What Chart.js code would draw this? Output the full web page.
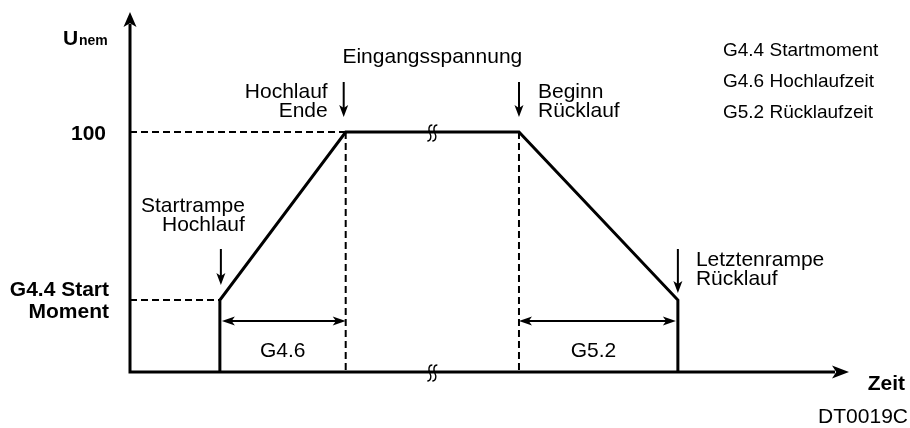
<!DOCTYPE html>
<html lang="de">
<head>
<meta charset="utf-8">
<title>DT0019C</title>
<script src="https://cdn.jsdelivr.net/npm/chart.js@4/dist/chart.umd.min.js"></script>
<style>
  body { margin: 0; background: #fff; }
  #box { width: 910px; height: 428px; }
</style>
</head>
<body>
<div id="box"><canvas id="diagramm"></canvas></div>
<script>
// Zeitpunkte auf der Zeitachse (0..100)
const zeitStart = 12.5;
const zeitHochlaufEnde = 30;
const zeitBeginnRuecklauf = 54.1;
const zeitEnde = 76.2;

// Spannungsverlauf U nem in %
const kurveZeit = [zeitStart, zeitStart, zeitHochlaufEnde, zeitBeginnRuecklauf, zeitEnde, zeitEnde];
const kurveSpannung = [0, 30, 100, 100, 30, 0];

const startMoment = 30;
const yWerte = [100, startMoment];
const yBeschriftung = [["100"], ["G4.4 Start", "Moment"]];

const parameter = ["G4.4 Startmoment", "G4.6 Hochlaufzeit", "G5.2 Rücklaufzeit"];

const schrift = '"Liberation Sans", Arial, sans-serif';

function punkte(xs, ys) {
  return xs.map((v, i) => ({ x: v, y: ys[i] }));
}

function gestrichelt(xs, ys) {
  return {
    data: punkte(xs, ys),
    showLine: true,
    borderColor: "#000",
    borderWidth: 2,
    borderDash: [7, 4],
    pointRadius: 0,
    clip: false
  };
}

// Pfeilspitze mit Spitze bei (x, y), zeigt in Richtung w
function spitze(ctx, x, y, w, l, b) {
  const dx = Math.cos(w), dy = Math.sin(w);
  const bx = x - dx * l, by = y - dy * l;
  ctx.beginPath();
  ctx.moveTo(x, y);
  ctx.lineTo(bx - dy * b, by + dx * b);
  ctx.lineTo(bx + dx * l * 0.25, by + dy * l * 0.25);
  ctx.lineTo(bx + dy * b, by - dx * b);
  ctx.closePath();
  ctx.fill();
}

function pfeilRunter(ctx, x, y1, y2) {
  ctx.lineWidth = 2;
  ctx.beginPath();
  ctx.moveTo(x, y1);
  ctx.lineTo(x, y2 - 8);
  ctx.stroke();
  spitze(ctx, x, y2, Math.PI / 2, 12, 4.5);
}

function doppelpfeil(ctx, x1, x2, y) {
  ctx.lineWidth = 2;
  ctx.beginPath();
  ctx.moveTo(x1 + 8, y);
  ctx.lineTo(x2 - 8, y);
  ctx.stroke();
  spitze(ctx, x1, y, Math.PI, 13, 4.5);
  spitze(ctx, x2, y, 0, 13, 4.5);
}

// Unterbrechungszeichen (zwei geschwungene Striche)
function bruch(ctx, x, y) {
  ctx.lineWidth = 1.4;
  [-2.5, 2.5].forEach(o => {
    const cx = x + o;
    ctx.beginPath();
    ctx.moveTo(cx + 2.5, y - 8);
    ctx.bezierCurveTo(cx - 1.5, y - 8, cx - 1.5, y - 3, cx, y);
    ctx.bezierCurveTo(cx + 1.5, y + 3, cx + 1.5, y + 8, cx - 2.5, y + 8);
    ctx.stroke();
  });
}

function text(ctx, t, x, y, align, font) {
  ctx.font = font;
  ctx.textAlign = align;
  ctx.fillText(t, x, y);
}

const zeichnung = {
  id: "zeichnung",
  afterDatasetsDraw(chart) {
    const { ctx, chartArea, scales } = chart;
    const px = v => scales.x.getPixelForValue(v);
    const py = v => scales.y.getPixelForValue(v);
    const f = "21px " + schrift;
    const fb = "bold 21px " + schrift;

    ctx.save();
    ctx.strokeStyle = "#000";
    ctx.fillStyle = "#000";
    ctx.textBaseline = "alphabetic";

    // Achsen
    ctx.lineWidth = 3;
    ctx.lineJoin = "miter";
    ctx.beginPath();
    ctx.moveTo(chartArea.left, chartArea.top + 12);
    ctx.lineTo(chartArea.left, chartArea.bottom);
    ctx.lineTo(chartArea.right - 14, chartArea.bottom);
    ctx.stroke();
    spitze(ctx, chartArea.left, chartArea.top, -Math.PI / 2, 15, 6.5);
    spitze(ctx, chartArea.right, chartArea.bottom, 0, 17, 6.5);

    // Unterbrechungen
    const mitte = (px(zeitHochlaufEnde) + px(zeitBeginnRuecklauf)) / 2;
    bruch(ctx, mitte, py(100) + 1);
    bruch(ctx, mitte, py(0) + 1);

    // Pfeile nach unten
    pfeilRunter(ctx, px(zeitStart) + 1, py(startMoment) - 51, py(startMoment) - 15);
    pfeilRunter(ctx, px(zeitHochlaufEnde) - 2, py(100) - 50, py(100) - 15);
    pfeilRunter(ctx, px(zeitBeginnRuecklauf), py(100) - 50, py(100) - 15);
    pfeilRunter(ctx, px(zeitEnde), py(startMoment) - 51, py(startMoment) - 7);

    // Zeitspannen
    const yp = py(startMoment) + 21;
    doppelpfeil(ctx, px(zeitStart) + 2, px(zeitHochlaufEnde), yp);
    doppelpfeil(ctx, px(zeitBeginnRuecklauf), px(zeitEnde) - 2, yp);
    text(ctx, "G4.6", (px(zeitStart) + px(zeitHochlaufEnde)) / 2, py(0) - 15, "center", f);
    text(ctx, "G5.2", (px(zeitBeginnRuecklauf) + px(zeitEnde)) / 2 - 5, py(0) - 15, "center", f);

    // Beschriftungen an der Kurve
    text(ctx, "Eingangsspannung", mitte, py(100) - 69, "center", f);
    text(ctx, "Hochlauf", px(zeitHochlaufEnde) - 18, py(100) - 34, "right", f);
    text(ctx, "Ende", px(zeitHochlaufEnde) - 18, py(100) - 15, "right", f);
    text(ctx, "Beginn", px(zeitBeginnRuecklauf) + 19, py(100) - 34, "left", f);
    text(ctx, "Rücklauf", px(zeitBeginnRuecklauf) + 19, py(100) - 15, "left", f);
    text(ctx, "Startrampe", px(zeitStart) + 25, py(startMoment) - 88, "right", f);
    text(ctx, "Hochlauf", px(zeitStart) + 25, py(startMoment) - 69, "right", f);
    text(ctx, "Letztenrampe", px(zeitEnde) + 18, py(startMoment) - 34, "left", f);
    text(ctx, "Rücklauf", px(zeitEnde) + 18, py(startMoment) - 15, "left", f);

    // Y-Beschriftung
    yWerte.forEach((v, i) => {
      const zeilen = yBeschriftung[i];
      const start = zeilen.length === 1 ? py(v) + 8 : py(v) - 4;
      zeilen.forEach((z, j) => {
        text(ctx, z, chartArea.left - (zeilen.length === 1 ? 24 : 21), start + j * 22, "right", fb);
      });
    });

    // Achsentitel
    text(ctx, "U", 63, 45, "left", fb);
    text(ctx, "nem", 79, 45, "left", "bold 14px " + schrift);
    text(ctx, "Zeit", 905, 390, "right", fb);
    text(ctx, "DT0019C", 908, 423, "right", f);

    // Parameterliste
    parameter.forEach((p, i) => {
      text(ctx, p, 723, 56 + i * 31, "left", "19px " + schrift);
    });

    ctx.restore();
  }
};

new Chart(document.getElementById("diagramm"), {
  type: "scatter",
  data: {
    datasets: [
      {
        data: punkte(kurveZeit, kurveSpannung),
        showLine: true,
        borderColor: "#000",
        borderWidth: 3,
        borderJoinStyle: "miter",
        pointRadius: 0,
        tension: 0,
        clip: false
      },
      gestrichelt([0, zeitStart], [startMoment, startMoment]),
      gestrichelt([0, zeitHochlaufEnde], [100, 100]),
      gestrichelt([zeitHochlaufEnde, zeitHochlaufEnde], [100, 0]),
      gestrichelt([zeitBeginnRuecklauf, zeitBeginnRuecklauf], [100, 0])
    ]
  },
  options: {
    responsive: true,
    maintainAspectRatio: false,
    animation: false,
    layout: { padding: { left: 130, right: 61, top: 12, bottom: 56 } },
    plugins: { legend: { display: false }, tooltip: { enabled: false } },
    scales: {
      x: { type: "linear", min: 0, max: 100, display: false },
      y: { type: "linear", min: 0, max: 150, display: false }
    }
  },
  plugins: [zeichnung]
});
</script>
</body>
</html>
